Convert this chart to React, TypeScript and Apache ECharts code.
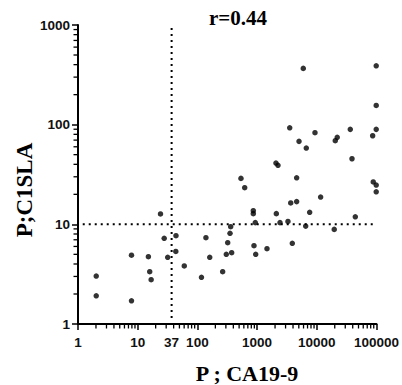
import React, { useEffect, useRef } from "react";
import * as echarts from "echarts";

// P;CA19-9 (x) and P;C1SLA (y) values
const ca199 = [
  5940, 99000, 99000, 99000, 86300, 3520, 5040, 6670, 9330, 20400,
  22000, 36400, 38900, 2070, 2240, 537, 620, 4600, 88300, 99000,
  99000, 11600, 3660, 4600, 7600, 44200, 864, 864, 2100, 933,
  2420, 3290, 6520, 19600, 361, 352, 322, 305, 375, 887,
  948, 1465, 3890, 265, 24.1, 27.8, 43.8, 43.5, 31.8, 60.3,
  139, 161, 117, 7.87, 15.1, 15.9, 16.8, 2.02, 2.02, 7.87,
];
const c1sla = [
  367, 390, 156, 89.7, 77.4, 93, 68, 58.2, 83, 69,
  74.6, 89.7, 45.5, 41.2, 39.1, 28.9, 23.3, 29.3, 26.6, 24.8,
  21.2, 18.8, 16.4, 16.9, 13.2, 11.9, 13.7, 12.8, 12.8, 10.4,
  10.4, 10.7, 9.6, 8.9, 9.46, 8.13, 6.54, 5.0, 5.19, 6.1,
  5.0, 5.69, 6.45, 3.35, 12.7, 7.24, 7.69, 5.34, 4.67, 3.82,
  7.34, 4.67, 2.94, 4.9, 4.73, 3.35, 2.78, 3.03, 1.92, 1.71,
];

const xTickLabels = ["1", "10", "100", "1000", "10000", "100000"];
const yTickLabels = ["1", "10", "100", "1000"];
const cutoffX = 37; // CA19-9 cut-off
const cutoffY = 10; // C1SLA cut-off
const cutoffXRange = [1.15, 1000];
const cutoffYRange = [1.2, 87000];
const extraXLabel = "37";
const titleText = "r=0.44";
const xName = "P ; CA19-9";
const yName = "P;C1SLA";

function minorTicks(maxExp: number): number[] {
  const out: number[] = [];
  for (let e = 0; e < maxExp; e++) {
    for (let m = 2; m <= 9; m++) out.push(m * Math.pow(10, e));
  }
  return out;
}

export default function App() {
  const ref = useRef<HTMLDivElement>(null);
  useEffect(() => {
    if (!ref.current) return;
    const chart = echarts.init(ref.current, null, { renderer: "svg" });
    const labelFont = {
      fontFamily: "Liberation Sans, Arial, sans-serif",
      fontSize: 13.5,
      fontWeight: "bold" as const,
      color: "#111",
    };
    const serifBold = "Liberation Serif, Times New Roman, serif";
    const points = ca199.map((x, i) => [x, c1sla[i]]);
    const xMinor = minorTicks(5).map((v) => [v, 1]);
    const yMinor = minorTicks(3).map((v) => [1, v]);

    chart.setOption({
      animation: false,
      grid: { left: 78, right: 25, top: 25, bottom: 61, containLabel: false },
      xAxis: {
        type: "log",
        logBase: 10,
        min: 1,
        max: 100000,
        splitLine: { show: false },
        axisLine: { lineStyle: { color: "#000", width: 2 } },
        axisTick: { show: true, inside: false, length: 6, lineStyle: { color: "#000", width: 1.5 } },
        axisLabel: {
          ...labelFont,
          margin: 11,
          formatter: (v: number) => xTickLabels[Math.round(Math.log10(v))] ?? "",
        },
      },
      yAxis: {
        type: "log",
        logBase: 10,
        min: 1,
        max: 1000,
        splitLine: { show: false },
        axisLine: { lineStyle: { color: "#000", width: 2 } },
        axisTick: { show: true, inside: false, length: 6, lineStyle: { color: "#000", width: 1.5 } },
        axisLabel: {
          ...labelFont,
          margin: 8,
          formatter: (v: number) => yTickLabels[Math.round(Math.log10(v))] ?? "",
        },
      },
      graphic: [
        {
          type: "text",
          x: 238,
          y: 18,
          style: {
            text: titleText,
            font: `bold 21px ${serifBold}`,
            fill: "#000",
            textAlign: "center",
            textVerticalAlign: "middle",
          },
        },
        {
          type: "text",
          x: 247,
          y: 373,
          style: {
            text: xName,
            font: `bold 22px ${serifBold}`,
            fill: "#000",
            textAlign: "center",
            textVerticalAlign: "middle",
          },
        },
        {
          type: "text",
          x: 24,
          y: 190,
          rotation: Math.PI / 2,
          style: {
            text: yName,
            font: `bold 23px ${serifBold}`,
            fill: "#000",
            textAlign: "center",
            textVerticalAlign: "middle",
          },
        },
      ],
      series: [
        {
          type: "line",
          data: [
            [cutoffX, cutoffXRange[0]],
            [cutoffX, cutoffXRange[1]],
          ],
          symbol: "none",
          lineStyle: { color: "#000", width: 2, type: [2, 4] },
          z: 1,
        },
        {
          type: "line",
          data: [
            [cutoffYRange[0], cutoffY],
            [cutoffYRange[1], cutoffY],
          ],
          symbol: "none",
          lineStyle: { color: "#000", width: 2, type: [2, 4] },
          z: 1,
        },
        {
          type: "scatter",
          data: points,
          symbol: "circle",
          symbolSize: 5.5,
          itemStyle: { color: "#000" },
          z: 3,
        },
        {
          type: "custom",
          data: xMinor,
          clip: false,
          silent: true,
          z: 5,
          renderItem: (_p: any, api: any) => {
            const c = api.coord([api.value(0), api.value(1)]);
            return {
              type: "line",
              shape: { x1: c[0], y1: c[1], x2: c[0], y2: c[1] + 4.5 },
              style: { stroke: "#000", lineWidth: 1.3 },
            };
          },
        },
        {
          type: "custom",
          data: yMinor,
          clip: false,
          silent: true,
          z: 5,
          renderItem: (_p: any, api: any) => {
            const c = api.coord([api.value(0), api.value(1)]);
            return {
              type: "line",
              shape: { x1: c[0], y1: c[1], x2: c[0] - 4.5, y2: c[1] },
              style: { stroke: "#000", lineWidth: 1.3 },
            };
          },
        },
        {
          type: "custom",
          data: [[cutoffX, 1]],
          clip: false,
          silent: true,
          renderItem: (_p: any, api: any) => {
            const c = api.coord([api.value(0), api.value(1)]);
            return {
              type: "text",
              x: c[0],
              y: c[1] + 11,
              style: {
                text: extraXLabel,
                font: "bold 13.5px Liberation Sans, Arial, sans-serif",
                fill: "#111",
                textAlign: "center",
                textVerticalAlign: "top",
              },
            };
          },
        },
      ],
    });
    return () => chart.dispose();
  }, []);
  return <div ref={ref} style={{ width: 402, height: 385, position: "absolute", left: 0, top: 0 }} />;
}
